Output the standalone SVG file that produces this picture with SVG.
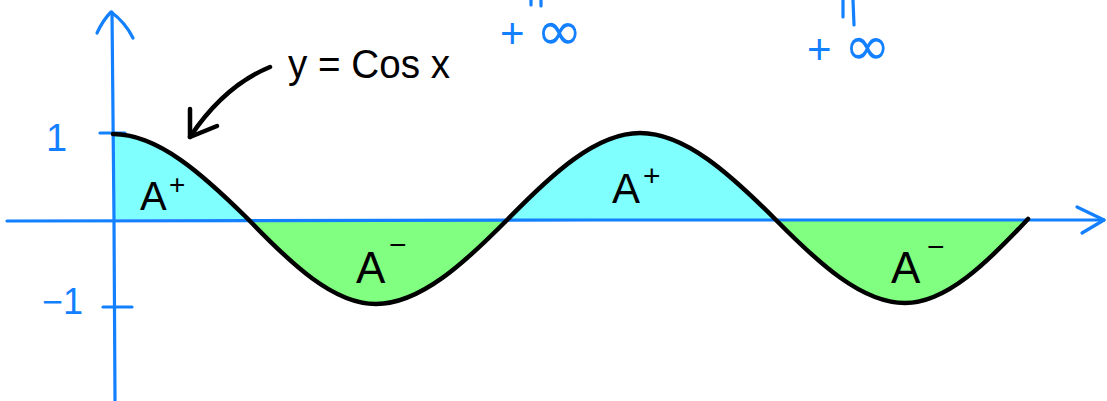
<svg xmlns="http://www.w3.org/2000/svg" width="1107" height="401" viewBox="0 0 1107 401">
<style>
.ax{fill:none;stroke:#1380FF;stroke-width:3.2;stroke-linecap:round;stroke-linejoin:round}
.crv{fill:none;stroke:#000;stroke-width:4.5;stroke-linecap:round;stroke-linejoin:round}
.pos{fill:#80FFFF}
.neg{fill:#80FF80}
.lbl{font-family:"Liberation Sans",Arial,sans-serif;fill:#000}
.blu{font-family:"Liberation Sans",Arial,sans-serif;fill:#1380FF}
.inf{font-family:"DejaVu Sans",sans-serif;fill:#1380FF}
</style>
<rect width="1107" height="401" fill="#fff"/>
<g id="areas">
<path class="pos" d="M113,134 C158,134 203,174.5 248,219 L113,219 Z"/>
<path class="neg" d="M248,219 C290.7,263.5 333.3,304 376,304 C420,304 464,263.5 508,219 Z"/>
<path class="pos" d="M508,219 C552,174 596,133 640,133 C685,133 730,174 775,219 Z"/>
<path class="neg" d="M775,219 C818.3,263 861.7,303 905,303 C946,303 987,263 1028,219 Z"/>
</g>
<g id="axes">
<path class="ax" d="M7,221 L600,220 L1104,220"/>
<path class="ax" d="M1077,207 L1104,220 L1082,233"/>
<path class="ax" d="M112,12 L114,220 L115,401"/>
<path class="ax" d="M97,33 Q103,20 111,12 Q125,22 133,38"/>
<path class="ax" d="M100,133 L125,133"/>
<path class="ax" d="M103,307 L132,307"/>
</g>
<g id="curve">
<path class="crv" d="M113,134 C158,134 203,174.5 248,219 C290.7,263.5 333.3,304 376,304 C420,304 464,263.5 508,219 C552,174 596,133 640,133 C685,133 730,174 775,219 C818.3,263 861.7,303 905,303 C946,303 987,263 1028,219"/>
</g>
<g id="connectors">
<path class="crv" d="M270,67 Q224,86 190,137" stroke-width="3"/>
<path class="crv" d="M190,109 L190,137 L217,126" stroke-width="3"/>
</g>
<g id="label-cos">
<text class="lbl" x="288" y="78" font-size="40" textLength="162" lengthAdjust="spacingAndGlyphs">y = Cos x</text>
</g>
<g id="label-A1">
<text class="lbl" x="140" y="210" font-size="40">A</text>
<text class="lbl" x="169" y="194" font-size="28">+</text>
</g>
<g id="label-A2">
<text class="lbl" x="356" y="283" font-size="44">A</text>
<text class="lbl" x="389" y="255" font-size="30">−</text>
</g>
<g id="label-A3">
<text class="lbl" x="612" y="203" font-size="42">A</text>
<text class="lbl" x="643" y="186" font-size="30">+</text>
</g>
<g id="label-A4">
<text class="lbl" x="891" y="283" font-size="44">A</text>
<text class="lbl" x="927" y="257" font-size="30">−</text>
</g>
<g id="label-y">
<text class="blu" x="46" y="151" font-size="38">1</text>
<text class="blu" x="42" y="314" font-size="36">−1</text>
</g>
<g id="label-inf1">
<path class="ax" d="M531,0 L531,5 M541,0 L541,6"/>
<text class="blu" x="500" y="48" font-size="42">+</text>
<text class="inf" x="536" y="50" font-size="56">∞</text>
</g>
<g id="label-inf2">
<path class="ax" d="M843,0 L843,17 M853,0 L854,25"/>
<text class="blu" x="807" y="64" font-size="42">+</text>
<text class="inf" x="844" y="65" font-size="56">∞</text>
</g>
</svg>
